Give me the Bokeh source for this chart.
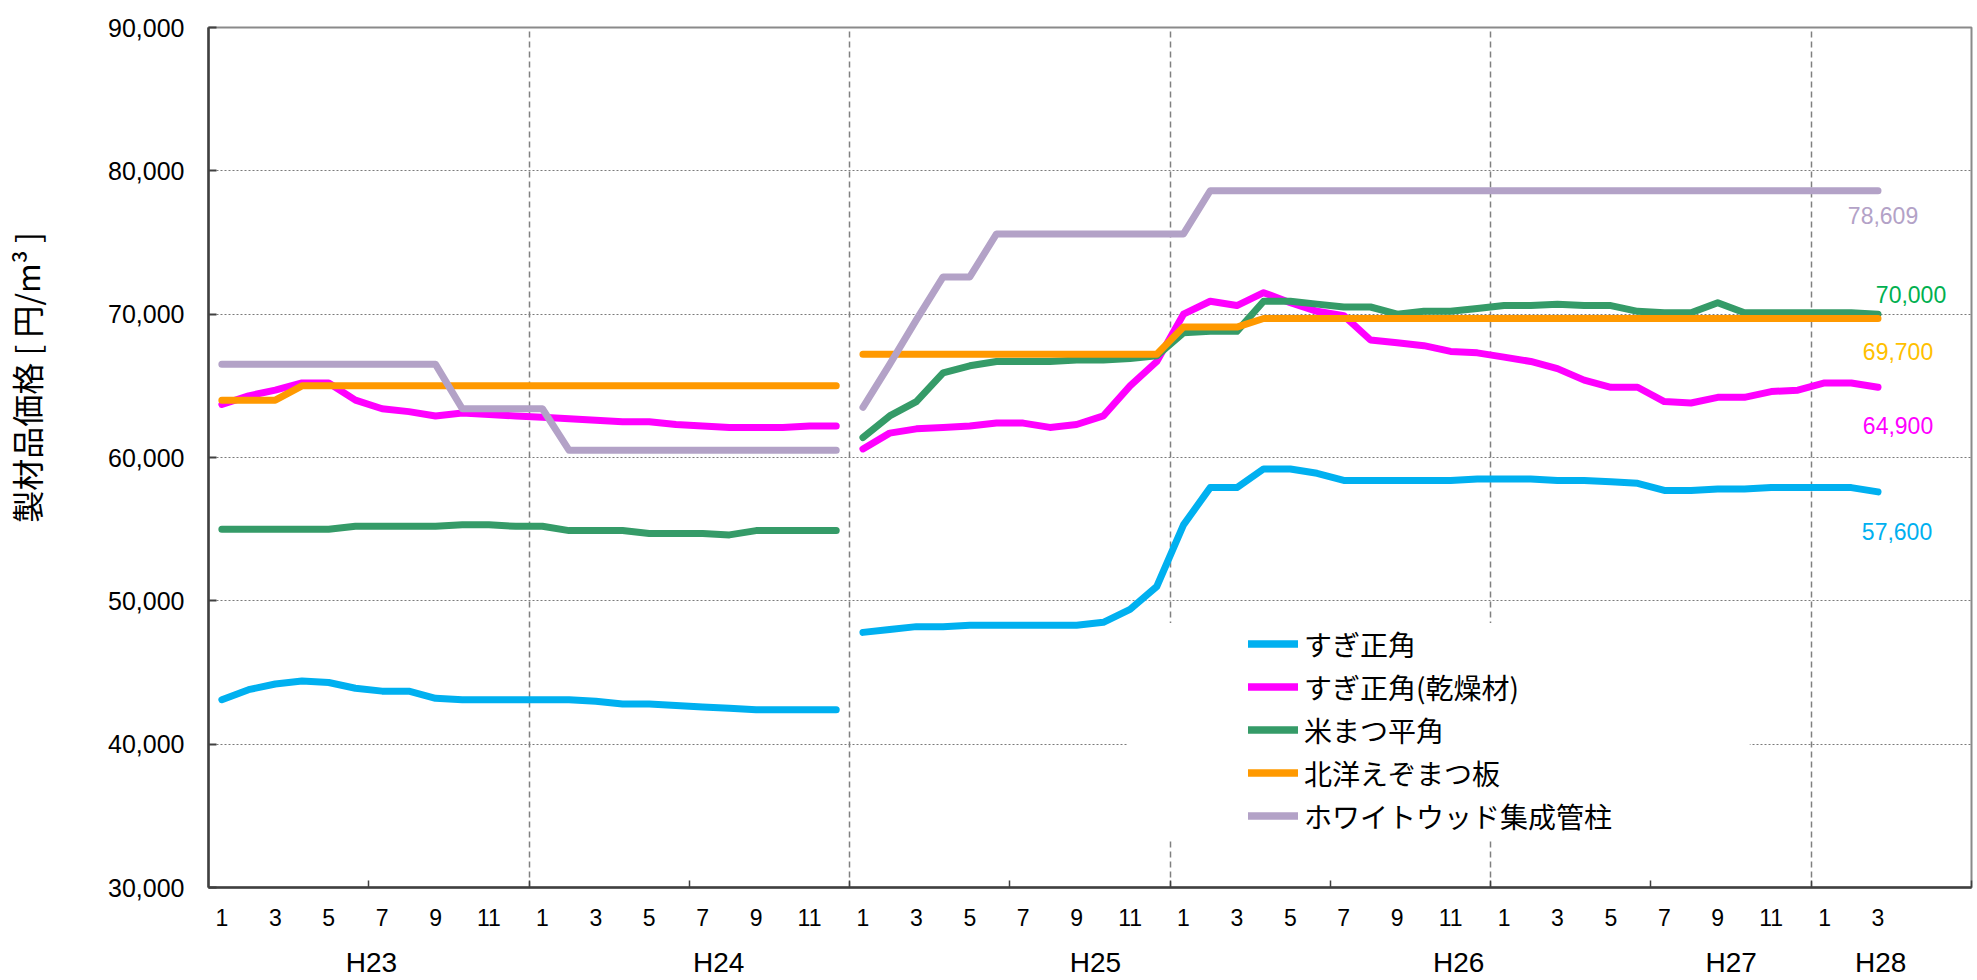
import math
from bokeh.plotting import figure
from bokeh.models import (Range1d, FixedTicker, LinearAxis, NumeralTickFormatter, Legend,
                          LegendItem, ColumnDataSource, BoxAnnotation, Grid)
from bokeh.core.properties import value
from bokeh.embed import file_html
from bokeh.resources import INLINE

# ---------------- data ----------------
years = ["H23", "H24", "H25", "H26", "H27", "H28"]
months_per_year = [12, 12, 12, 12, 12, 3]
break_index = 24          # lines are not connected between H24/12 and H25/1

series_names = ["すぎ正角", "すぎ正角(乾燥材)", "米まつ平角", "北洋えぞまつ板", "ホワイトウッド集成管柱"]

sugi = [43100, 43800, 44200, 44400, 44300, 43900, 43700, 43700, 43200, 43100, 43100, 43100,
        43100, 43100, 43000, 42800, 42800, 42700, 42600, 42500, 42400, 42400, 42400, 42400,
        47800, 48000, 48200, 48200, 48300, 48300, 48300, 48300, 48300, 48500, 49400, 51000,
        55300, 57900, 57900, 59200, 59200, 58900, 58400, 58400, 58400, 58400, 58400, 58500,
        58500, 58500, 58400, 58400, 58300, 58200, 57700, 57700, 57800, 57800, 57900, 57900,
        57900, 57900, 57600]

sugi_dry = [63700, 64300, 64700, 65200, 65200, 64000, 63400, 63200, 62900, 63100, 63000, 62900,
            62800, 62700, 62600, 62500, 62500, 62300, 62200, 62100, 62100, 62100, 62200, 62200,
            60600, 61700, 62000, 62100, 62200, 62400, 62400, 62100, 62300, 62900, 65000, 66700,
            70000, 70900, 70600, 71500, 70800, 70200, 69900, 68200, 68000, 67800, 67400, 67300,
            67000, 66700, 66200, 65400, 64900, 64900, 63900, 63800, 64200, 64200, 64600, 64700,
            65200, 65200, 64900]

beimatsu = [55000, 55000, 55000, 55000, 55000, 55200, 55200, 55200, 55200, 55300, 55300, 55200,
            55200, 54900, 54900, 54900, 54700, 54700, 54700, 54600, 54900, 54900, 54900, 54900,
            61400, 62900, 63900, 65900, 66400, 66700, 66700, 66700, 66800, 66800, 66900, 67100,
            68700, 68800, 68800, 70900, 70900, 70700, 70500, 70500, 70000, 70200, 70200, 70400,
            70600, 70600, 70700, 70600, 70600, 70200, 70100, 70100, 70800, 70100, 70100, 70100,
            70100, 70100, 70000]

ezomatsu = [64000, 64000, 64000, 65000, 65000, 65000, 65000, 65000, 65000, 65000, 65000, 65000,
            65000, 65000, 65000, 65000, 65000, 65000, 65000, 65000, 65000, 65000, 65000, 65000,
            67200, 67200, 67200, 67200, 67200, 67200, 67200, 67200, 67200, 67200, 67200, 67200,
            69100, 69100, 69100, 69700, 69700, 69700, 69700, 69700, 69700, 69700, 69700, 69700,
            69700, 69700, 69700, 69700, 69700, 69700, 69700, 69700, 69700, 69700, 69700, 69700,
            69700, 69700, 69700]

whitewood = [66500, 66500, 66500, 66500, 66500, 66500, 66500, 66500, 66500, 63400, 63400, 63400,
             63400, 60500, 60500, 60500, 60500, 60500, 60500, 60500, 60500, 60500, 60500, 60500,
             63500, 66500, 69600, 72600, 72600, 75600, 75600, 75600, 75600, 75600, 75600, 75600,
             75600, 78609, 78609, 78609, 78609, 78609, 78609, 78609, 78609, 78609, 78609, 78609,
             78609, 78609, 78609, 78609, 78609, 78609, 78609, 78609, 78609, 78609, 78609, 78609,
             78609, 78609, 78609]

y_ticks = [30000, 40000, 50000, 60000, 70000, 80000, 90000]
year_label_pos = [5.6, 18.6, 32.7, 46.3, 56.5, 62.1]
y_title = "製材品価格 [ 円/m³ ]"

# ---------------- styling ----------------
colors = ["#00b0f0", "#ff00ff", "#359b68", "#ff9900", "#b3a2c7"]
label_colors = ["#00b0f0", "#ff00ff", "#00b050", "#ffc000", "#b3a2c7"]
label_xoff = [19, 20, 33, 20, 5]
label_yoff = [40, 38, -20, 33, 25]
NUM_FONT = "Liberation Sans"
JP_FONT = "Noto Sans CJK JP"

all_series = [sugi, sugi_dry, beimatsu, ezomatsu, whitewood]

# month positions (index = month counter)
month_numbers = []
for n in months_per_year:
    month_numbers += list(range(1, n + 1))
x_idx = list(range(len(month_numbers)))
month_label_pos = [i for i, m in zip(x_idx, month_numbers) if m % 2 == 1]
month_label_text = {i: str(m) for i, m in zip(x_idx, month_numbers) if m % 2 == 1}
n_slots = 12 * (len(years) - 1) + 6
half_year_ticks = [k * 6 - 0.5 for k in range(1, n_slots // 6 + 1)]
year_bounds = [k * 12 - 0.5 for k in range(1, len(years))]

p = figure(width=1977, height=980,
           x_range=Range1d(-0.5, n_slots - 0.5), y_range=Range1d(30000, 90000),
           output_backend="svg", toolbar_location=None,
           x_axis_type=None, y_axis_type=None,
           min_border_left=206, min_border_right=6, min_border_top=27, min_border_bottom=92)
p.background_fill_color = "white"
p.border_fill_color = "white"
p.outline_line_color = "#8a8a8a"
p.outline_line_width = 2

# grids
p.add_layout(Grid(dimension=1, ticker=FixedTicker(ticks=y_ticks[1:-1]),
                  grid_line_color="#7a7a7a", grid_line_dash="2 2", grid_line_width=1))
p.add_layout(Grid(dimension=0, ticker=FixedTicker(ticks=year_bounds),
                  grid_line_color="#808080", grid_line_dash="6 4", grid_line_width=1.5))

# white area behind the legend
p.add_layout(BoxAnnotation(left=33.9, right=57.2, top=48450, bottom=33400,
                           fill_color="white", fill_alpha=1, line_color=None, level="underlay"))

# y axis (title shifted upward along the axis by leading ideographic spaces)
yaxis = LinearAxis(ticker=FixedTicker(ticks=y_ticks), formatter=NumeralTickFormatter(format="0,0"),
                   major_tick_in=8, major_tick_out=0, minor_tick_line_color=None,
                   major_tick_line_color="#404040", major_tick_line_width=2,
                   axis_line_color="#404040", axis_line_width=2.5,
                   major_label_standoff=24,
                   major_label_text_font=NUM_FONT, major_label_text_font_size="25px",
                   major_label_text_color="black",
                   axis_label="\u3000" * 5 + y_title,
                   axis_label_standoff=56,
                   axis_label_text_font=JP_FONT, axis_label_text_font_size="32px",
                   axis_label_text_font_style="normal", axis_label_text_color="black")
p.add_layout(yaxis, "left")

# x axis: month labels + half-year ticks
xaxis_m = LinearAxis(ticker=FixedTicker(ticks=month_label_pos, minor_ticks=half_year_ticks),
                     major_label_overrides=month_label_text,
                     major_tick_in=0, major_tick_out=0,
                     minor_tick_in=7, minor_tick_out=0,
                     minor_tick_line_color="#404040", minor_tick_line_width=1.5,
                     axis_line_color="#404040", axis_line_width=2.5,
                     major_label_standoff=21,
                     major_label_text_font=NUM_FONT, major_label_text_font_size="23px",
                     major_label_text_color="black")
p.add_layout(xaxis_m, "below")

xaxis_y = LinearAxis(ticker=FixedTicker(ticks=year_label_pos),
                     major_label_overrides={pos: y for pos, y in zip(year_label_pos, years)},
                     major_tick_line_color=None, minor_tick_line_color=None,
                     axis_line_color=None, major_tick_in=0, major_tick_out=0,
                     major_label_standoff=18,
                     major_label_text_font=NUM_FONT, major_label_text_font_size="28px",
                     major_label_text_color="black")
p.add_layout(xaxis_y, "below")

# lines
items = []
for name, vals, col in zip(series_names, all_series, colors):
    r1 = p.line(x_idx[:break_index], vals[:break_index], line_color=col, line_width=7,
                line_cap="round", line_join="round")
    r2 = p.line(x_idx[break_index:], vals[break_index:], line_color=col, line_width=7,
                line_cap="round", line_join="round")
    items.append(LegendItem(label=name, renderers=[r1, r2]))

# end value labels
last_i = x_idx[-1]
src = ColumnDataSource(dict(
    x=[last_i] * len(all_series),
    y=[s[-1] for s in all_series],
    text=[f"{s[-1]:,}" for s in all_series],
    color=label_colors, xo=label_xoff, yo=label_yoff))
p.text(x="x", y="y", text="text", source=src, text_color="color",
       x_offset="xo", y_offset="yo", text_align="center", text_baseline="middle",
       text_font=value(NUM_FONT), text_font_size=value("23px"))

legend = Legend(items=items, location=(1040, 50), orientation="vertical",
                glyph_width=50, glyph_height=43, label_height=43, label_standoff=6,
                spacing=0, padding=0, margin=0, border_line_color=None,
                background_fill_alpha=0,
                label_text_font=JP_FONT, label_text_font_size="28px",
                label_text_color="black")
p.add_layout(legend)

open("out.html", "w").write(file_html(p, INLINE))
